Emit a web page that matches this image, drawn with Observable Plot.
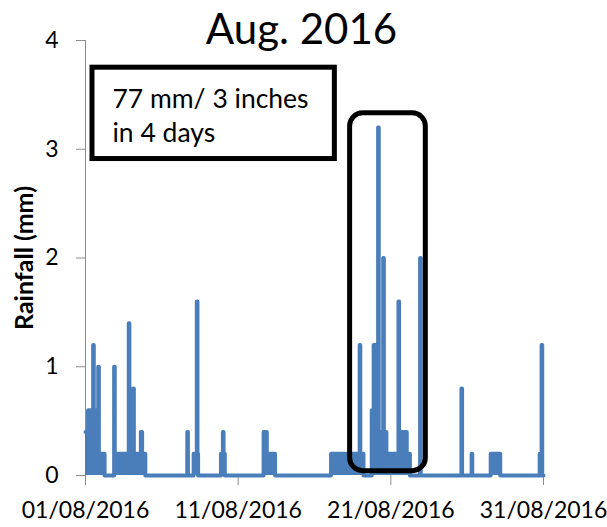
<!DOCTYPE html>
<html><head><meta charset="utf-8">
<script src="https://cdn.jsdelivr.net/npm/d3@7"></script>
<script src="https://cdn.jsdelivr.net/npm/@observablehq/plot@0.6"></script>
<style>body{margin:0;background:#fff;} svg{display:block;}</style>
</head><body><div id="chart"></div>
<script>
const titleText = "Aug. 2016";
const yLabel = "Rainfall (mm)";
const xTickDates = ["2016-08-01", "2016-08-11", "2016-08-21", "2016-08-31"];
const xTickLabels = ["01/08/2016", "11/08/2016", "21/08/2016", "31/08/2016"];
const yTicks = [0, 1, 2, 3, 4];
// hour since 01/08/2016 00:00 at which the hourly rainfall changes, and the new value (mm)
const changeHours = [0, 4, 12, 13, 20, 21, 30,
  45, 46, 68, 69, 75, 76, 87, 89, 94,
  160, 161, 170, 175, 176, 177,
  213, 216, 217, 219,
  280, 285, 298,
  386, 431, 432, 437, 450, 453, 460, 461, 468, 469, 473, 492, 493, 505, 510, 526, 527,
  591, 592, 607, 608, 637, 652, 714, 717, 718, 720];
const rainfall = [0.4, 0.6, 1.2, 0.6, 1.0, 0.2, 0,
  1.0, 0.2, 1.4, 0.2, 0.8, 0.2, 0.4, 0.2, 0,
  0.4, 0, 0.2, 1.6, 0.2, 0,
  0.2, 0.4, 0.2, 0,
  0.4, 0.2, 0,
  0.2, 1.2, 0.2, 0, 0.6, 1.2, 3.2, 0.4, 2.0, 0.4, 0.2, 1.6, 0.4, 0.2, 0, 2.0, 0,
  0.8, 0, 0.2, 0, 0.2, 0, 0.2, 1.2, 0, 0];
const noteLines = ["77 mm/ 3 inches", "in 4 days"];
const noteHours = [11, 392];
const noteMM = [2.91, 3.75];
const highlightHours = [416, 535];
const highlightMM = [0.04, 3.33];

const t0 = Date.UTC(2016, 7, 1);
const toDate = h => new Date(t0 + h * 3600e3);
const series = changeHours.map((h, i) => ({date: toDate(h), mm: rainfall[i]}));
const tickDates = xTickDates.map(d => new Date(d + "T00:00:00Z"));
const labelByTime = new Map(tickDates.map((d, i) => [+d, xTickLabels[i]]));
const blue = "#4a7ebb";
const gray = "#8c8c8c";

const plot = Plot.plot({
  width: 607, height: 527,
  marginLeft: 85, marginRight: 64, marginTop: 40, marginBottom: 52,
  style: {fontFamily: "Lato, sans-serif", background: "#fff", color: "#000"},
  x: {type: "utc", domain: [toDate(0), toDate(720)]},
  y: {domain: [0, 4]},
  marks: [
    Plot.ruleX([toDate(0)], {y1: 0, y2: 4, stroke: gray, strokeWidth: 1}),
    Plot.axisY(yTicks, {tickSize: 9, tickPadding: 18, fontSize: 23, stroke: gray, fill: "#000", label: null,
      tickFormat: d => String(d)}),
    Plot.axisX(tickDates, {tickSize: 10, tickPadding: 16, fontSize: 23, stroke: gray, fill: "#000", label: null,
      tickFormat: d => labelByTime.get(+d)}),
    Plot.areaY(series, {x: "date", y: "mm", curve: "step-after", fill: blue}),
    Plot.line(series, {x: "date", y: "mm", curve: "step-after", stroke: blue, strokeWidth: 4}),
    Plot.rect([0], {x1: () => toDate(noteHours[0]), x2: () => toDate(noteHours[1]),
      y1: () => noteMM[0], y2: () => noteMM[1], fill: "#fff", stroke: "#000", strokeWidth: 5}),
    Plot.text([noteLines.join("\n")], {x: () => toDate(noteHours[0]), y: () => noteMM[1],
      textAnchor: "start", lineAnchor: "top", dx: 20, dy: 16, fontSize: 26.5, lineHeight: 1.28, fill: "#000"}),
    Plot.rect([0], {x1: () => toDate(highlightHours[0]), x2: () => toDate(highlightHours[1]),
      y1: () => highlightMM[0], y2: () => highlightMM[1], fill: "none", stroke: "#000", strokeWidth: 5, rx: 13, ry: 13}),
    Plot.text([titleText], {frameAnchor: "top", lineAnchor: "top", dx: -13, dy: -26, fontSize: 42, fill: "#000"}),
    Plot.text([yLabel], {x: () => toDate(0), y: () => 2, rotate: -90, dx: -61, fontSize: 25, fontWeight: "bold", fill: "#000"})
  ]
});
document.getElementById("chart").appendChild(plot);
</script>
</body></html>
